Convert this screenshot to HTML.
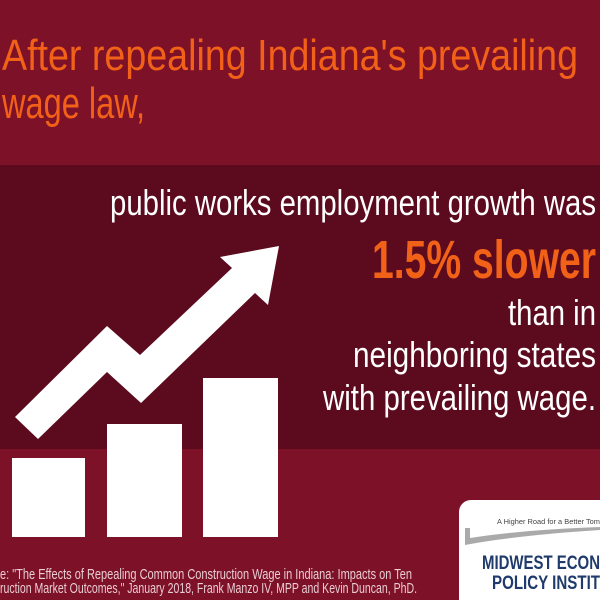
<!DOCTYPE html>
<html><head><meta charset="utf-8"><style>
html,body{margin:0;padding:0;background:#7d1128;}
svg{display:block;}
text{font-family:"Liberation Sans",sans-serif;}
</style></head><body>
<svg width="600" height="600" viewBox="0 0 600 600">
<rect x="0" y="0" width="600" height="600" fill="#7d1128"/>
<rect x="0" y="165" width="600" height="284" fill="#5c0b1f"/>
<g fill="#f26118">
<text x="2" y="70" font-size="44" textLength="576" lengthAdjust="spacingAndGlyphs">After repealing Indiana's prevailing</text>
<text x="2" y="118" font-size="44" textLength="143" lengthAdjust="spacingAndGlyphs">wage law,</text>
</g>
<g fill="#ffffff" text-anchor="end">
<text x="596" y="215" font-size="36" textLength="486" lengthAdjust="spacingAndGlyphs">public works employment growth was</text>
<text x="596" y="278" font-size="54" font-weight="bold" fill="#f26118" textLength="224" lengthAdjust="spacingAndGlyphs">1.5% slower</text>
<text x="596" y="325" font-size="36" textLength="88" lengthAdjust="spacingAndGlyphs">than in</text>
<text x="596" y="367" font-size="36" textLength="243" lengthAdjust="spacingAndGlyphs">neighboring states</text>
<text x="596" y="410" font-size="36" textLength="273" lengthAdjust="spacingAndGlyphs">with prevailing wage.</text>
</g>
<g fill="#ffffff">
<rect x="12" y="458" width="73" height="79"/>
<rect x="107" y="424" width="75" height="113"/>
<rect x="203" y="378" width="75" height="159"/>
<polygon points="15,417 107,326 140,355 232,268 220,257 279,246 268,305 255,293 141,403 107,372 38,439"/>
</g>
<g fill="#e9cdd3" font-size="15">
<text x="0" y="579" textLength="412" lengthAdjust="spacingAndGlyphs">e: "The Effects of Repealing  Common Construction Wage in Indiana: Impacts on Ten</text>
<text x="0" y="593" textLength="417" lengthAdjust="spacingAndGlyphs">ruction Market Outcomes," January 2018, Frank Manzo IV, MPP and Kevin Duncan, PhD.</text>
</g>
<g>
<rect x="459" y="500" width="160" height="120" rx="12" fill="#ffffff"/>
<text x="497" y="524" font-size="7" fill="#444" textLength="103" lengthAdjust="spacingAndGlyphs">A Higher Road for a Better Tom</text>
<path d="M465 528 L465 545 Q520 535 600 530 L600 527 Q520 530 470 538 L470 528 Z" fill="#aaaaaa"/>
<text x="482" y="569" font-size="19" font-weight="bold" fill="#1f3a6b" font-family="Liberation Serif,serif" textLength="118" lengthAdjust="spacingAndGlyphs">MIDWEST ECON</text>
<text x="492" y="589" font-size="19" font-weight="bold" fill="#1f3a6b" font-family="Liberation Serif,serif" textLength="108" lengthAdjust="spacingAndGlyphs">POLICY INSTIT</text>
</g>
</svg>
</body></html>
